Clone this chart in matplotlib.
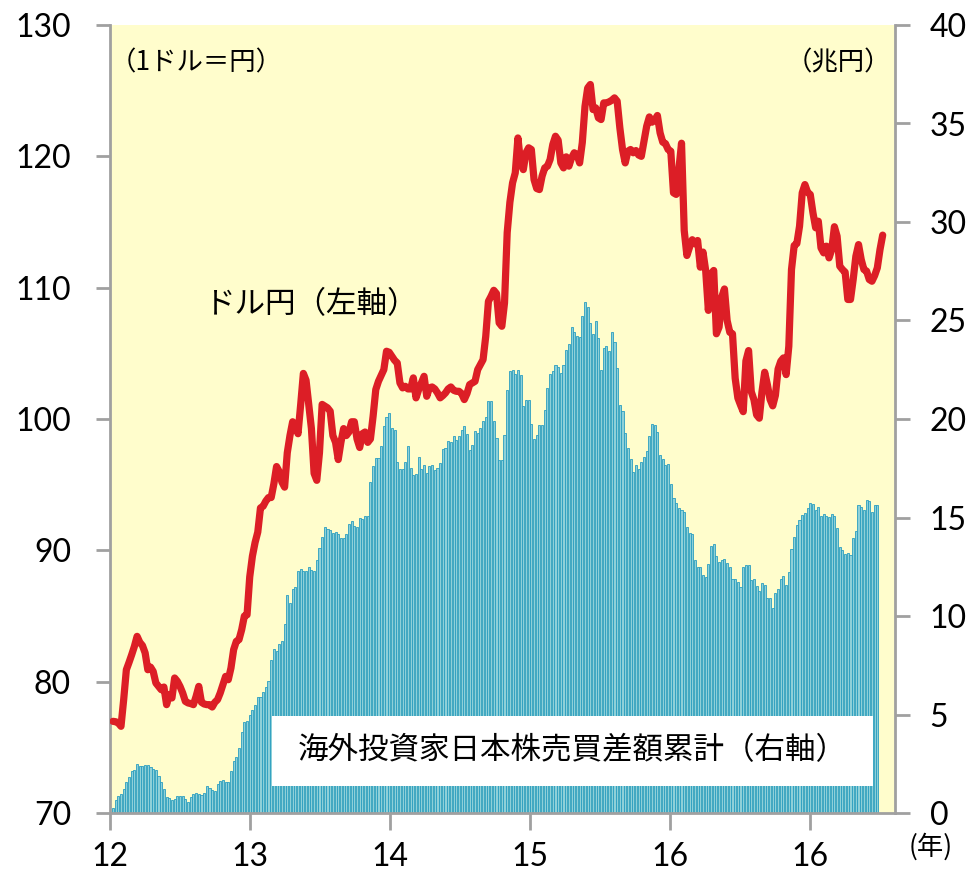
import numpy as np
import matplotlib
matplotlib.use("Agg")
import matplotlib.pyplot as plt
from matplotlib.patches import Rectangle

# ---- data: cumulative net purchases of Japanese stocks by foreign investors (trillion yen, weekly)
flows_2012 = [0.25, 0.67, 0.88, 0.96, 1.22, 1.56, 1.83, 2.11, 2.17, 2.5, 2.37, 2.37, 2.42, 2.45, 2.34,
              2.25, 2.2, 1.86, 1.56, 1.22, 0.81, 0.74, 0.64, 0.71, 0.84, 0.84, 0.84, 0.71, 0.56, 0.81,
              0.98, 1.01, 0.96, 0.9, 1.01, 1.35, 1.27, 1.18, 1.1, 1.49, 1.61, 1.69, 1.56, 1.56, 2.11,
              2.62, 2.84, 3.3, 4.09, 4.6, 4.69]
flows_2013a = [4.96, 5.23, 5.5, 5.87, 5.87, 6.14, 6.41, 6.68, 7.76, 8.3, 8.21, 8.58]
flows_2013b = [8.71, 9.61, 11.08, 10.66, 11.37, 11.47, 12.27, 12.38, 12.3, 12.3,
               12.49, 12.35, 12.3, 12.86, 13.45, 13.99, 14.52, 14.42, 14.38, 14.21,
               14.24, 14.18, 13.96, 13.96, 14.16, 14.69, 14.8, 14.58, 14.52, 14.97,
               14.92, 15.09, 15.06, 16.78, 17.59, 18.02, 18.02, 18.61, 19.66, 20.08,
               20.3, 19.54, 19.42, 17.8, 17.46, 17.46, 17.8, 18.64, 17.51, 17.17,
               17.22, 18.07, 17.46, 17.68, 17.26, 17.59, 17.68, 17.43, 17.51, 17.77,
               18.48, 18.53, 18.9, 18.81, 19.15, 18.95, 19.15, 19.46, 19.66, 19.25,
               18.44, 18.7, 19.41, 19.29, 19.54, 19.88, 20.08, 20.93, 20.93, 19.88,
               19.04, 17.93, 17.9, 19.2, 21.49, 22.42, 22.47, 22.3, 22.47, 22.25,
               20.64, 20.94]
flows_2015 = [20.98, 19.76, 19.0, 19.2, 19.71, 19.68, 20.44, 21.57, 22.3, 22.45,
              22.72, 22.64, 22.34, 22.76, 23.48, 23.8, 24.67, 24.42, 24.23, 24.16,
              25.21, 25.92, 25.66, 24.87, 24.33, 24.95, 24.11, 22.5, 23.6, 23.72,
              23.43, 24.42, 23.89, 22.59, 20.73, 20.39, 19.29, 18.53, 17.98, 17.31,
              17.65, 17.48, 17.8, 18.07, 18.36, 19.12, 19.75, 19.68, 19.34, 18.19,
              17.98, 17.65, 17.72, 16.72, 15.99, 15.74]
flows_2016 = [15.48, 15.36, 15.26, 14.52, 14.21, 14.16, 12.86, 12.49, 12.49, 12.1,
              11.98, 12.64, 13.53, 13.67, 13.06, 12.74, 12.82, 12.91, 12.69, 12.47,
              11.88, 11.88, 11.71, 11.47, 12.49, 12.57, 12.57, 11.84, 11.88, 11.54,
              11.25, 11.68, 11.59, 10.91, 10.91, 10.41, 11.17, 11.37, 11.88, 12.05,
              11.59, 12.23, 13.4, 14.01, 14.63, 14.89, 15.14, 15.23, 15.48, 15.74,
              15.69, 15.4, 15.53, 15.09, 15.19, 15.09, 15.03, 15.18, 15.06, 14.47,
              13.48, 13.37, 13.16, 13.2, 13.11, 13.96, 14.3, 15.61, 15.53, 15.4,
              15.87, 15.82, 15.28, 15.61, 15.61]

# ---- data: USD/JPY (yen per dollar, weekly)
usdjpy_2012 = [76.98, 76.95, 76.85, 76.6, 78.63, 80.91, 81.47, 82.06, 82.69, 83.45,
               83.0, 82.75, 82.19, 80.91, 81.11, 80.78, 79.9, 79.64, 79.39, 79.59,
               78.25, 79.01, 78.76, 80.28, 80.03, 79.64, 79.14, 78.5, 78.38, 78.33,
               78.25, 78.88, 79.64, 78.43, 78.3, 78.25, 78.25, 78.07, 78.43, 78.63,
               79.14, 79.77, 80.4, 80.15, 81.04, 82.44, 83.07, 83.2, 83.96, 85.0]
usdjpy_2013 = [85.09, 87.98, 89.56, 90.6, 91.39, 93.23, 93.36, 93.75, 94.02, 94.02,
               95.07, 96.38, 95.99, 95.2, 94.81, 97.43, 98.74, 99.79, 99.53, 98.88,
               101.11, 103.47, 102.95, 101.11, 99.27, 95.86, 95.33, 97.43, 101.11, 100.98,
               100.85, 100.59, 98.74, 98.22, 96.91, 98.22, 99.27, 98.74, 99.01, 99.79,
               99.79, 98.48, 97.83, 98.88, 99.01, 98.22, 98.48]
usdjpy_2014 = [100.21, 102.24, 102.87, 103.31, 103.76, 105.16, 105.08, 104.78, 104.47, 104.27,
               102.75, 102.37, 102.49, 102.29, 102.29, 103.13, 101.61, 102.24, 102.75, 103.25,
               101.73, 102.37, 102.44, 102.29, 101.99, 101.61, 101.78, 101.99, 102.29, 102.44,
               102.19, 102.11, 102.11, 101.94, 101.48, 101.94, 102.62, 102.75, 102.87, 103.76,
               104.14, 104.52, 106.3, 108.96, 109.35, 109.8, 109.55, 107.32, 107.06, 108.84]
usdjpy_2015 = [114.2, 116.5, 117.98, 118.74, 121.4, 119.5, 118.99, 120.27, 120.65, 120.52,
               118.23, 117.55, 117.47, 118.49, 119.12, 119.25, 119.76, 120.9, 121.53, 121.23,
               119.5, 119.12, 119.96, 119.25, 119.88, 120.27, 120.14, 119.5, 121.05, 123.8,
               125.2, 125.47, 123.56, 123.69, 122.93, 122.8, 124.07, 124.07, 124.15, 124.27,
               124.45, 124.2, 122.17, 120.52, 119.5, 120.39, 120.52, 120.27, 120.44]
usdjpy_2016 = [120.1, 120.0, 121.15, 122.29, 123.0, 122.6, 122.75, 123.11, 121.79, 121.08,
               120.97, 120.52, 120.39, 117.22, 117.1, 119.0, 121.0, 114.35, 112.45, 113.09,
               113.65, 113.34, 113.59, 111.56, 112.71, 111.31, 108.27, 111.05, 111.31, 106.49,
               107.0, 109.3, 109.9, 107.5, 106.6, 106.49, 103.1, 101.6, 101.06, 100.56,
               104.42, 105.21, 102.08, 101.47, 100.31, 100.06, 102.08, 103.56, 102.62]
usdjpy_2017 = [101.5, 101.0, 101.8, 103.8, 104.4, 104.65, 103.38, 105.54, 111.38, 113.21,
               113.36, 114.68, 117.22, 117.85, 117.27, 117.09, 115.7, 114.56, 115.06, 113.03,
               112.65, 113.16, 112.27, 112.9, 114.64, 113.92, 111.64, 111.38, 111.18, 109.1,
               109.1, 110.62, 112.39, 113.28, 112.14, 111.38, 111.26, 110.62, 110.49, 110.92,
               111.51, 112.9, 114.0]

year_ticks = [2012, 2013, 2014, 2015, 2016, 2017]
year_labels = ["12", "13", "14", "15", "16", "16"]
left_ticks = [70, 80, 90, 100, 110, 120, 130]
right_ticks = [0, 5, 10, 15, 20, 25, 30, 35, 40]

flows = np.array(flows_2012 + flows_2013a + flows_2013b + flows_2015 + flows_2016)
usdjpy = np.array(usdjpy_2012 + usdjpy_2013 + usdjpy_2014 + usdjpy_2015 + usdjpy_2016 + usdjpy_2017)

WPY = 52.2
x_bar = 2012 + (np.arange(len(flows)) + 1.1) / WPY
x_line = 2012 + (np.arange(len(usdjpy)) + 1.1) / WPY

NUM = ["Lato", "DejaVu Sans"]
JP = ["Noto Sans CJK JP", "DejaVu Sans"]
GRAY = "#A0A0A0"

fig = plt.figure(figsize=(9.72, 8.71), dpi=100)
ax = fig.add_axes([110 / 972, 58 / 871, 785 / 972, 788 / 871])
ax.set_facecolor("#FFFDCC")

ax.bar(x_bar, flows, width=0.78 / WPY, color="#8ED0D8", edgecolor="#2A9EC0",
       linewidth=0.6, align="center", zorder=2)
ax.set_ylim(0, 40)
ax.set_xlim(2012, 2012 + 785 / 140)
ax.set_xticks(year_ticks)
ax.set_xticklabels(year_labels, fontfamily=NUM, fontsize=23)
ax.tick_params(axis="x", direction="out", length=12, width=2, color=GRAY, pad=9)
for s in ["left", "right", "bottom"]:
    ax.spines[s].set_color(GRAY)
    ax.spines[s].set_linewidth(2)
ax.spines["top"].set_visible(False)

ax.add_patch(Rectangle((0.206, 0.034), 0.766, 0.089, transform=ax.transAxes,
                       facecolor="white", edgecolor="none", zorder=3))
ax.text(0.5885, 0.0787, "海外投資家日本株売買差額累計（右軸）", transform=ax.transAxes,
        ha="center", va="center", fontsize=22, fontfamily=JP, zorder=4)

ax2 = ax.twinx()
ax2.patch.set_visible(False)
ax2.plot(x_line, usdjpy, color="#DC1E26", linewidth=5.2, solid_joinstyle="round",
         solid_capstyle="round", zorder=5)
ax2.set_ylim(70, 130)
for s in ax2.spines.values():
    s.set_visible(False)

# right axis (bars) on the right, left axis (line) on the left
ax.yaxis.set_ticks_position("right")
ax.yaxis.set_label_position("right")
ax.set_yticks(right_ticks)
ax.set_yticklabels([str(v) for v in right_ticks], fontfamily=NUM, fontsize=23)
ax.tick_params(axis="y", which="both", left=False, labelleft=False, right=True, labelright=True,
               direction="out", length=11, width=2, color=GRAY, pad=14)

ax2.yaxis.set_ticks_position("left")
ax2.set_yticks(left_ticks)
ax2.set_yticklabels([str(v) for v in left_ticks], fontfamily=NUM, fontsize=23)
ax2.tick_params(axis="y", which="both", right=False, labelright=False, left=True, labelleft=True,
                direction="out", length=10, width=2, color=GRAY, pad=18)

ax2.text(0.0, 0.952, "（1ドル＝円）", transform=ax2.transAxes, ha="left", va="center",
         fontsize=19, fontfamily=JP)
ax2.text(0.995, 0.952, "（兆円）", transform=ax2.transAxes, ha="right", va="center",
         fontsize=19, fontfamily=JP)
ax2.text(0.121, 0.645, "ドル円（左軸）", transform=ax2.transAxes, ha="left", va="center",
         fontsize=22, fontfamily=JP)

fig.text(931 / 972, (871 - 847) / 871, "(年)", ha="center", va="center",
         fontsize=19, fontfamily=JP)

fig.savefig("out.png", dpi=100, facecolor="white")
